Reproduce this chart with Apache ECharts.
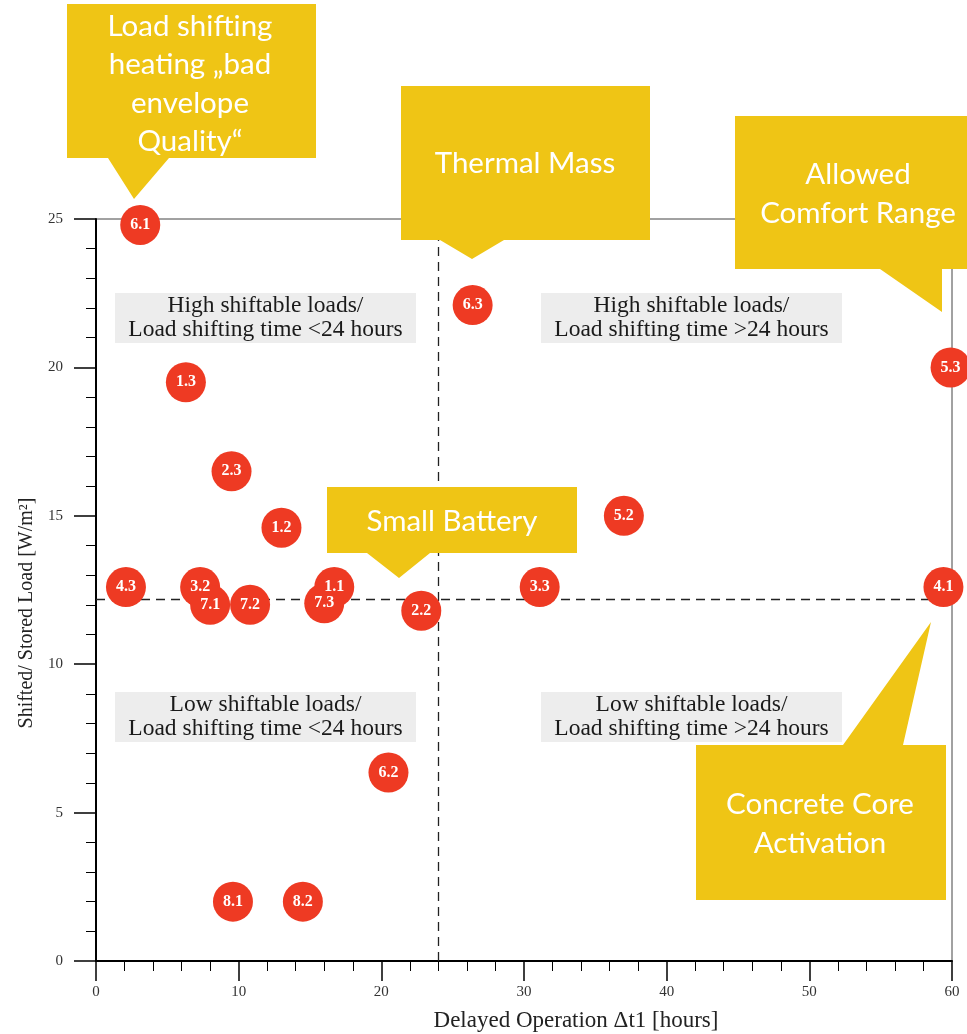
<!DOCTYPE html>
<html>
<head>
<meta charset="utf-8">
<script src="https://cdn.jsdelivr.net/npm/echarts@6/dist/echarts.min.js"></script>
<style>html,body{margin:0;padding:0;background:#fff}#c{width:967px;height:1034px}</style>
</head>
<body>
<div id="c"></div>
<script>
// ---- data ----
const pointNames = ['6.1','6.3','1.3','5.3','2.3','1.2','5.2','4.3','3.2','7.1','7.2','1.1','7.3','2.2','3.3','4.1','6.2','8.1','8.2'];
const delayHours = [3.1, 26.4, 6.3, 59.9, 9.5, 13.0, 37.0, 2.1, 7.3, 8.0, 10.8, 16.7, 16.0, 22.8, 31.1, 59.4, 20.5, 9.6, 14.5];
const shiftedLoad = [24.8, 22.1, 19.5, 20.0, 16.5, 14.6, 15.0, 12.6, 12.6, 12.0, 12.0, 12.6, 12.05, 11.8, 12.6, 12.6, 6.35, 2.0, 2.0];
const xRange = [0, 60];
const yRange = [0, 25];
const thresholdHours = 24;
const thresholdLoad = 12.2;
const xAxisTitle = 'Delayed Operation \u0394t1 [hours]';
const yAxisTitle = 'Shifted/ Stored Load [W/m\u00B2]';
const quadrantTexts = [
  'High shiftable loads/\nLoad shifting time <24 hours',
  'High shiftable loads/\nLoad shifting time >24 hours',
  'Low shiftable loads/\nLoad shifting time <24 hours',
  'Low shiftable loads/\nLoad shifting time >24 hours'
];
const calloutTexts = [
  'Load shifting\nheating \u201Ebad\nenvelope\nQuality\u201C',
  'Thermal Mass',
  'Allowed\nComfort Range',
  'Small Battery',
  'Concrete Core\nActivation'
];

// ---- styling ----
const YELLOW = '#EFC515';
const RED = '#EE3A23';
const SERIF = '"Liberation Serif", "DejaVu Serif", serif';
const SANS = 'Lato, "Open Sans", sans-serif';

const points = pointNames.map((n, i) => ({ value: [delayHours[i], shiftedLoad[i]], name: n }));

const calloutShapes = [
  [[67,4],[316,4],[316,158],[169,158],[134,199],[108,158],[67,158]],
  [[401,86],[650,86],[650,240],[504,240],[472,259],[440,240],[401,240]],
  [[735,116],[967,116],[967,269],[942,269],[942,312],[880,269],[735,269]],
  [[327,487],[577,487],[577,553],[430,553],[399,578],[367,553],[327,553]],
  [[696,745],[843,745],[931,622],[903,745],[946,745],[946,900],[696,900]]
];
const calloutTextPos = [[190,84],[525,163],[858,194],[452,521],[820,824]];
const quadBoxes = [[115,293,301,50],[541,293,301,50],[115,692,301,50],[541,692,301,50]];

const graphics = [];
quadBoxes.forEach((b, i) => {
  graphics.push({ type:'rect', shape:{x:b[0], y:b[1], width:b[2], height:b[3]}, style:{fill:'#EDEDED'}, z:1, silent:true });
  graphics.push({ type:'text', x:b[0]+b[2]/2, y:b[1]+b[3]/2, z:2, silent:true,
    style:{ text:quadrantTexts[i], font:'23.5px ' + SERIF, fill:'#1a1a1a', align:'center', verticalAlign:'middle', lineHeight:24 } });
});
calloutShapes.forEach((pts, i) => {
  graphics.push({ type:'polygon', shape:{points:pts}, style:{fill:YELLOW}, z:100, silent:true });
  graphics.push({ type:'text', x:calloutTextPos[i][0], y:calloutTextPos[i][1], z:101, silent:true,
    style:{ text:calloutTexts[i], font:'29.5px ' + SANS, fill:'#fff', align:'center', verticalAlign:'middle', lineHeight:38.5 } });
});

const chart = echarts.init(document.getElementById('c'), null, { renderer:'canvas' });
chart.setOption({
  backgroundColor:'#fff',
  animation:false,
  grid:{ left:96, right:15, top:219, bottom:73, outerBoundsMode:'none', containLabel:false,
         show:true, borderColor:'#444', borderWidth:1, backgroundColor:'transparent' },
  xAxis:{
    type:'value', min:xRange[0], max:xRange[1], interval:10,
    name:xAxisTitle, nameLocation:'middle', nameGap:48,
    nameTextStyle:{ fontFamily:SERIF, fontSize:23, color:'#222', padding:[0,0,0,104] },
    axisLine:{ show:true, onZero:false, lineStyle:{ color:'#000', width:2 } },
    axisTick:{ show:true, length:20, lineStyle:{ color:'#000', width:1.5 } },
    minorTick:{ show:true, splitNumber:5, length:10, lineStyle:{ color:'#000', width:1 } },
    axisLabel:{ margin:24, fontFamily:SERIF, fontSize:15, color:'#333' },
    splitLine:{ show:false }
  },
  yAxis:{
    type:'value', min:yRange[0], max:yRange[1], interval:5,
    name:yAxisTitle, nameLocation:'middle', nameGap:54, nameRotate:90,
    nameTextStyle:{ fontFamily:SERIF, fontSize:20, color:'#222', padding:[0,46,0,0] },
    axisLine:{ show:true, onZero:false, lineStyle:{ color:'#000', width:2 } },
    axisTick:{ show:true, length:22, lineStyle:{ color:'#000', width:1.5 } },
    minorTick:{ show:true, splitNumber:5, length:10, lineStyle:{ color:'#000', width:1 } },
    axisLabel:{ margin:33, fontFamily:SERIF, fontSize:15, color:'#333' },
    splitLine:{ show:false }
  },
  graphic: graphics,
  series:[{
    type:'scatter',
    data: points,
    symbolSize:40,
    itemStyle:{ color:RED, opacity:1 },
    z:10,
    label:{ show:true, position:'inside', formatter:p => p.name, color:'#fff', fontFamily:SERIF, fontWeight:'bold', fontSize:16 },
    markLine:{
      silent:true, symbol:['none','none'], label:{ show:false }, z:5,
      lineStyle:{ color:'#222', type:[9,6], width:1.3 },
      data:[ { xAxis: thresholdHours }, { yAxis: thresholdLoad } ]
    }
  }]
});
</script>
</body>
</html>
